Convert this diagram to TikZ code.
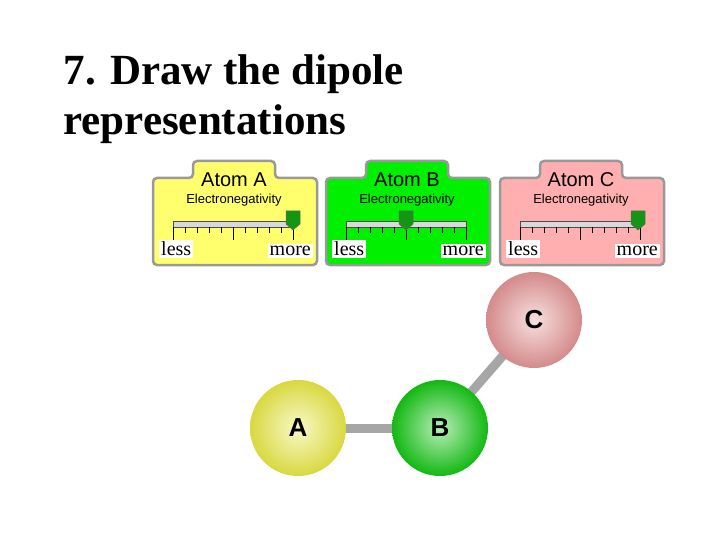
\documentclass[tikz,border=0pt]{standalone}
\usepackage{fontspec}
\setmainfont{Liberation Serif}
\newfontfamily\arialfont{Liberation Sans}
\usetikzlibrary{positioning}
\definecolor{panelA}{RGB}{255,255,110}
\definecolor{panelB}{RGB}{0,240,0}
\definecolor{panelC}{RGB}{255,175,175}
\definecolor{ballA}{RGB}{235,235,70}
\definecolor{ballB}{RGB}{20,200,20}
\definecolor{ballC}{RGB}{230,150,150}
\definecolor{marker}{RGB}{20,150,20}
\tikzset{
  atomball/.style={circle, minimum size=96pt, inner sep=0pt},
  ballshade/.style={shading=radial, inner color=#1!30!white, outer color=#1!92!black},
  balllabel/.style={font=\arialfont\bfseries\fontsize{26}{26}\selectfont},
  bond/.style={line width=9pt, draw=gray!70},
  endlabel/.style={fill=white, inner sep=2pt, font=\fontsize{20}{20}\selectfont},
  title/.style={anchor=base west, font=\bfseries\fontsize{43}{43}\selectfont}
}
% panel: #1 left x, #2 name, #3 fill, #4 marker offset
\newcommand{\atompanel}[4]{
  \begin{scope}[xshift=#1]
    \draw[fill=#3, draw=gray!80, line width=2.5pt, rounded corners=4pt]
      (0,265) -- (0,178) -- (40,178) -- (40,161) -- (122,161) -- (122,178)
      -- (164,178) -- (164,265) -- cycle;
    \node[font=\arialfont\fontsize{20}{20}\selectfont] at (81,180) {Atom #2};
    \node[font=\arialfont\fontsize{13}{13}\selectfont] at (81,200) {Electronegativity};
    \draw[fill=gray!30, draw=black!70, line width=0.6pt] (20,221) rectangle (140,227);
    \foreach \i in {0,...,10}
      \draw[line width=0.6pt] (20+\i*12,227) -- (20+\i*12,233);
    \foreach \i in {0,5,10}
      \draw[line width=0.6pt] (20+\i*12,227) -- (20+\i*12,240);
    \draw[fill=marker, draw=black!60, line width=0.5pt]
      (#4-7,211) -- (#4+7,211) -- (#4+7,224) -- (#4,230) -- (#4-7,224) -- cycle;
    \node[endlabel, anchor=west] at (6,249) {less};
    \node[endlabel, anchor=east] at (160,251) {more};
  \end{scope}
}
\begin{document}
\begin{tikzpicture}[x=1pt, y=-1pt]
  \useasboundingbox (0,0) rectangle (720,540);
  % Title
  \node[title] (t1) at (60,85) {7. Draw the dipole};
  \node[title] (t2) at (60,135) {representations};
  % Panels
  \atompanel{153}{A}{panelA}{140}
  \atompanel{326}{B}{panelB}{80}
  \atompanel{500}{C}{panelC}{138}
  % Molecule
  \coordinate (a) at (298,428);
  \coordinate (b) at (440,428);
  \coordinate (c) at (534,320);
  \draw[bond] (a) -- (b);
  \draw[bond] (b) -- (c);
  \node[atomball, ballshade=ballA] (A) at (a) {};
  \node[atomball, ballshade=ballB] (B) at (b) {};
  \node[atomball, ballshade=ballC] (C) at (c) {};
  \node[balllabel] at (A) {A};
  \node[balllabel] at (B) {B};
  \node[balllabel] at (C) {C};
\end{tikzpicture}
\end{document}
